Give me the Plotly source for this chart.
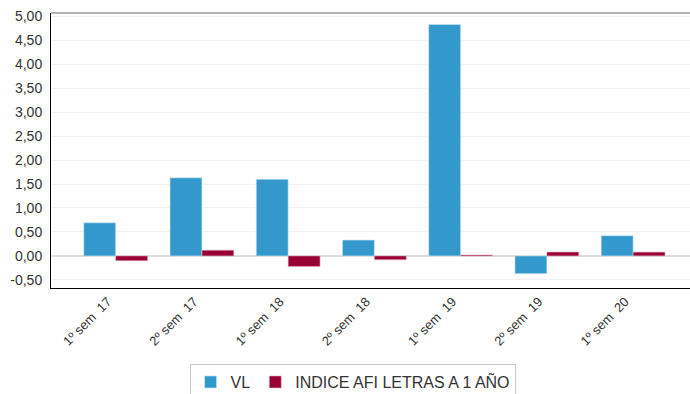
import plotly.graph_objects as go

periods = ["1º sem\u00a0\u00a017", "2º sem\u00a0\u00a017", "1º sem\u00a0\u00a018", "2º sem\u00a0\u00a018",
           "1º sem\u00a0\u00a019", "2º sem\u00a0\u00a019", "1º sem\u00a0\u00a020"]
vl = [0.69, 1.63, 1.60, 0.33, 4.83, -0.37, 0.42]
indice = [-0.10, 0.12, -0.22, -0.08, 0.02, 0.08, 0.08]
y_ticks = [-0.5, 0, 0.5, 1, 1.5, 2, 2.5, 3, 3.5, 4, 4.5, 5]
y_tick_text = [f"{v:.2f}".replace(".", ",") for v in y_ticks]

fig = go.Figure()
fig.add_trace(go.Bar(x=periods, y=vl, name="VL",
                     marker=dict(color="#3399cc", line=dict(color="#cce6f3", width=0.6))))
fig.add_trace(go.Bar(x=periods, y=indice, name="INDICE AFI LETRAS A 1 AÑO",
                     marker=dict(color="#990033", line=dict(color="#e6b3c2", width=0.6))))

fig.update_layout(
    width=690, height=394,
    margin=dict(l=51, r=0, t=13, b=106),
    barmode="group", bargap=0.26, bargroupgap=0,
    plot_bgcolor="white", paper_bgcolor="white",
    font=dict(family="Liberation Sans, Arial, sans-serif", size=13, color="#333333"),
    showlegend=True,
    legend=dict(orientation="h", xref="container", yref="container",
                x=0.511, xanchor="center", y=0.076, yanchor="top",
                bordercolor="#c8c8c8", borderwidth=1, font=dict(size=16, color="#333333"),
                itemwidth=30, traceorder="normal"),
    xaxis=dict(range=[-0.75, 6.66], tickangle=-45, showgrid=False, showline=True,
               linecolor="#000000", linewidth=1, ticks="", automargin=False,
               ticklabelshift=-8,
               tickfont=dict(size=13, color="#333333")),
    yaxis=dict(range=[-0.67, 5.07], tickvals=y_ticks, ticktext=y_tick_text,
               showgrid=True, gridcolor="#f2f2f2", gridwidth=1,
               zeroline=True, zerolinecolor="#dddddd", zerolinewidth=1.5,
               showline=True, linecolor="#000000", linewidth=1, ticks="",
               automargin=False, ticklabelstandoff=5,
               tickfont=dict(size=14, color="#333333")),
)
# thin grey border along the top of the plotting area
fig.add_shape(type="line", xref="paper", yref="paper", x0=0, x1=1, y0=1, y1=1,
              line=dict(color="#999999", width=1.5))

fig.write_html("out.html")
